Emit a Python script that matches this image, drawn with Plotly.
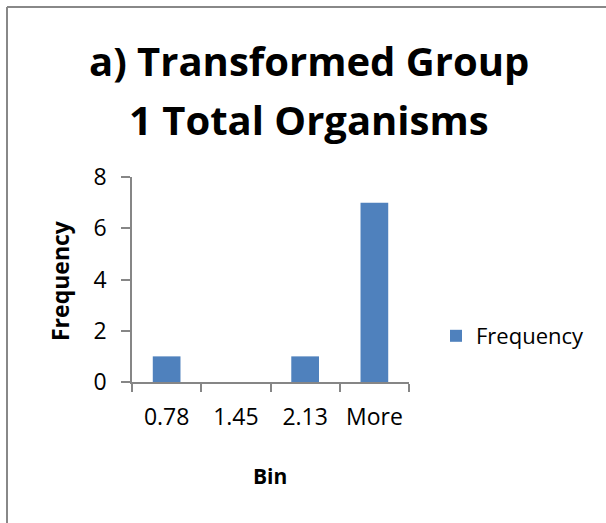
import plotly.graph_objects as go

bins = ["0.78", "1.45", "2.13", "More"]
frequency = [1, 0, 1, 7]
y_ticks = [0, 2, 4, 6, 8]

W, H = 606, 523
FONT = "Open Sans"
AXIS = "#868686"
BAR = "#4F81BD"

def px(x):
    return x / W

def py(y):
    return 1 - y / H

fig = go.Figure()
fig.add_trace(go.Bar(x=bins, y=frequency, name="Frequency", marker_color=BAR,
                     marker_line_width=0, showlegend=True))

fig.update_layout(
    width=W, height=H,
    margin=dict(l=0, r=0, t=0, b=0, pad=0, autoexpand=False),
    paper_bgcolor="white", plot_bgcolor="white",
    font=dict(family=FONT, color="black"),
    bargap=0.6,
    showlegend=True,
    legend=dict(x=px(436), y=py(336), xanchor="left", yanchor="middle",
                font=dict(size=22, family=FONT), bgcolor="rgba(0,0,0,0)"),
    xaxis=dict(domain=[px(132), px(409)], showline=True, linecolor=AXIS, linewidth=1.5,
               ticks="outside", ticklen=8, tickcolor=AXIS, tickwidth=1.5,
               tickson="boundaries", showgrid=False, zeroline=False,
               tickfont=dict(size=23, family=FONT), ticklabelstandoff=14),
    yaxis=dict(domain=[py(382), py(177)], range=[0, 8], tickvals=y_ticks,
               showline=True, linecolor=AXIS, linewidth=1.5,
               ticks="outside", ticklen=9, tickcolor=AXIS, tickwidth=1.5,
               showgrid=False, zeroline=False,
               tickfont=dict(size=23, family=FONT), ticklabelstandoff=10),
)

fig.add_annotation(x=px(309), y=py(61), xref="paper", yref="paper",
                   text="<b>a) Transformed Group</b>", showarrow=False,
                   font=dict(size=40, family=FONT), xanchor="center", yanchor="middle")
fig.add_annotation(x=px(309), y=py(120), xref="paper", yref="paper",
                   text="<b>1 Total Organisms</b>", showarrow=False,
                   font=dict(size=40, family=FONT), xanchor="center", yanchor="middle")
fig.add_annotation(x=px(270), y=py(476), xref="paper", yref="paper",
                   text="<b>Bin</b>", showarrow=False,
                   font=dict(size=21, family=FONT), xanchor="center", yanchor="middle")
fig.add_annotation(x=px(60), y=py(281), xref="paper", yref="paper",
                   text="<b>Frequency</b>", showarrow=False, textangle=-90,
                   font=dict(size=23, family=FONT), xanchor="center", yanchor="middle")

# chart-area border (top and left edges visible in the frame)
fig.add_shape(type="line", xref="paper", yref="paper",
              x0=px(7), x1=1, y0=py(7), y1=py(7),
              line=dict(color="#888888", width=2), layer="below")
fig.add_shape(type="line", xref="paper", yref="paper",
              x0=px(7), x1=px(7), y0=0, y1=py(7),
              line=dict(color="#888888", width=2), layer="below")

fig.write_html("out.html", config={"displayModeBar": False})

with open("out.html", "r", encoding="utf-8") as f:
    html = f.read()
css = ("<style>html,body{margin:0;padding:0;overflow:hidden;width:606px;height:523px}"
       ".plotly-graph-div{position:absolute;top:0;left:0}</style>")
html = html.replace("<head>", "<head>" + css, 1)
with open("out.html", "w", encoding="utf-8") as f:
    f.write(html)
